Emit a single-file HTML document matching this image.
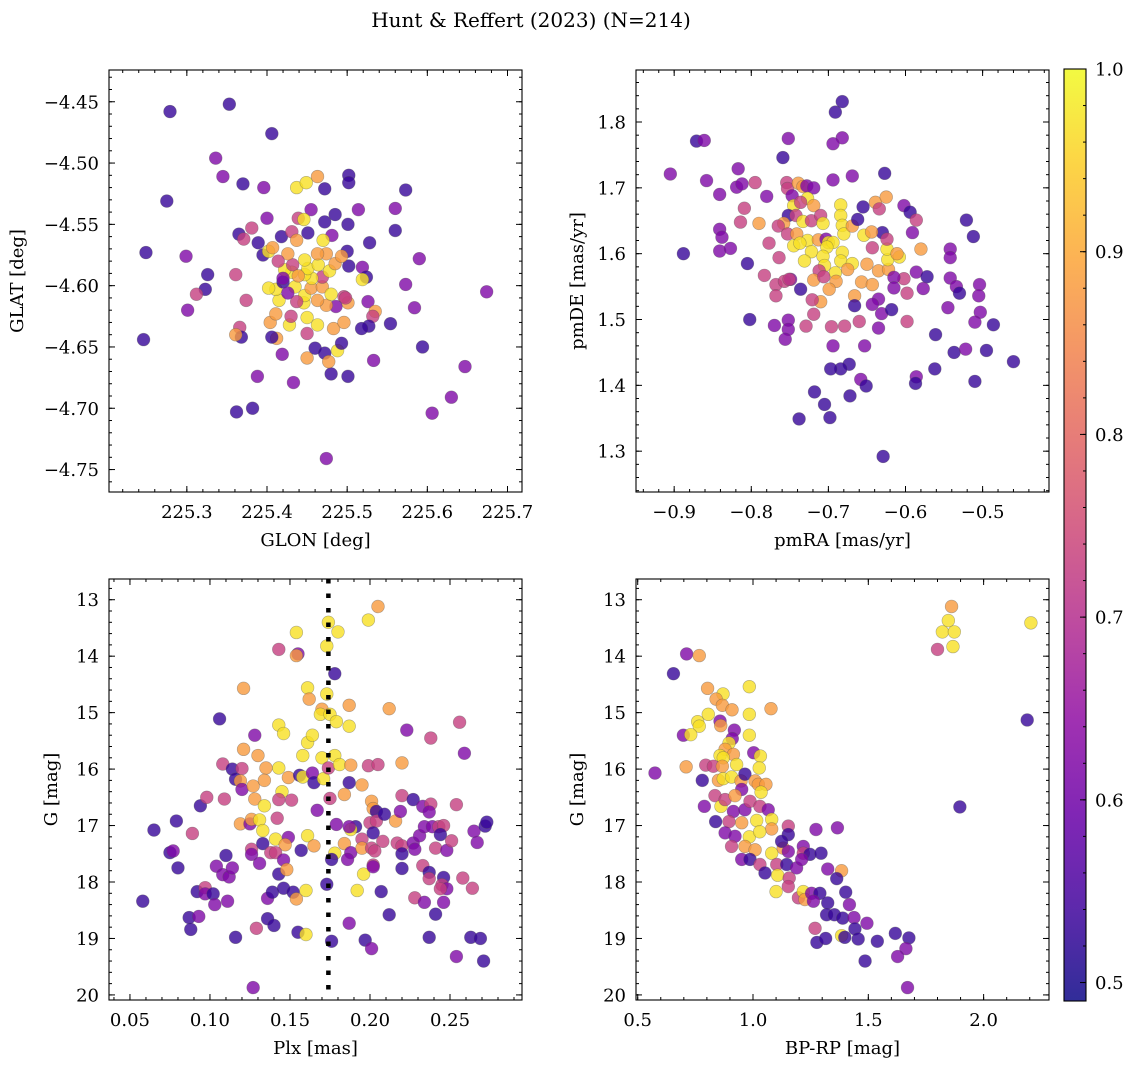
<!DOCTYPE html>
<html><head><meta charset="utf-8">
<style>
html,body{margin:0;padding:0;background:#fff;}
svg{display:block;font-family:"DejaVu Serif","Liberation Serif",serif;}
</style></head>
<body>
<svg id="fig" width="1136" height="1068" viewBox="0 0 1136 1068" xmlns="http://www.w3.org/2000/svg">
<text x="531" y="27" font-size="20" text-anchor="middle">Hunt &amp; Reffert (2023) (N=214)</text>
</svg>
<script>
// ---------- DATA (colour = membership probability) ----------
const posGlon = [225.279,225.353,225.406,225.336,225.345,225.370,225.396,225.275,225.249,225.299,225.326,225.323,225.312,225.301,225.246,225.361,225.374,225.366,225.368,225.361,225.362,225.382,225.388,225.419,225.433,225.437,225.449,225.463,225.472,225.502,225.502,225.455,225.439,225.446,225.400,225.381,225.365,225.371,225.389,225.395,225.402,225.407,225.418,225.431,225.437,225.451,225.472,225.485,225.481,225.470,225.501,225.514,225.500,225.502,225.519,225.524,225.519,225.528,225.560,225.573,225.560,225.590,225.573,225.584,225.526,225.501,225.496,225.535,225.532,225.527,225.518,225.554,225.594,225.674,225.647,225.630,225.606,225.533,225.501,225.480,225.460,225.472,225.477,225.488,225.493,225.450,225.474,225.412,225.406,225.404,225.411,225.428,225.430,225.450,225.450,225.463,225.483,225.496,225.486,225.474,225.463,225.446,225.447,225.437,225.415,225.411,225.402,225.420,225.435,225.455,225.469,225.480,225.498,225.469,225.456,225.447,225.431,225.422,225.451,225.464,225.478,225.485,225.493,225.474,225.463,225.447,225.432,225.426,225.414,225.420,225.426,225.439];
const posGlat = [-4.458,-4.452,-4.476,-4.496,-4.511,-4.517,-4.520,-4.531,-4.573,-4.576,-4.591,-4.603,-4.607,-4.620,-4.644,-4.591,-4.612,-4.634,-4.642,-4.640,-4.703,-4.700,-4.674,-4.656,-4.679,-4.520,-4.516,-4.511,-4.521,-4.510,-4.516,-4.538,-4.545,-4.546,-4.545,-4.553,-4.558,-4.562,-4.565,-4.575,-4.572,-4.569,-4.560,-4.556,-4.563,-4.557,-4.548,-4.542,-4.559,-4.563,-4.550,-4.538,-4.572,-4.584,-4.585,-4.593,-4.595,-4.565,-4.537,-4.522,-4.555,-4.578,-4.599,-4.618,-4.613,-4.614,-4.609,-4.621,-4.625,-4.633,-4.635,-4.631,-4.650,-4.605,-4.666,-4.691,-4.704,-4.661,-4.674,-4.672,-4.651,-4.655,-4.662,-4.653,-4.647,-4.659,-4.741,-4.643,-4.642,-4.630,-4.623,-4.632,-4.625,-4.639,-4.626,-4.632,-4.635,-4.630,-4.617,-4.616,-4.612,-4.614,-4.608,-4.613,-4.612,-4.603,-4.602,-4.597,-4.601,-4.602,-4.601,-4.607,-4.610,-4.593,-4.594,-4.591,-4.589,-4.587,-4.586,-4.583,-4.588,-4.582,-4.576,-4.574,-4.574,-4.579,-4.583,-4.574,-4.580,-4.594,-4.606,-4.592];
const posProb = [.53,.53,.53,.62,.62,.53,.62,.53,.53,.62,.53,.53,.73,.62,.53,.73,.73,.73,.53,.88,.53,.53,.62,.62,.62,.97,.97,.88,.53,.53,.53,.62,.73,.97,.62,.73,.53,.73,.53,.53,.97,.88,.53,.73,.88,.53,.53,.53,.62,.97,.53,.62,.53,.53,.62,.53,.97,.53,.62,.53,.53,.62,.62,.62,.62,.88,.73,.88,.73,.53,.53,.53,.53,.62,.62,.62,.62,.62,.53,.53,.53,.53,.88,.97,.53,.88,.62,.88,.53,.88,.88,.97,.73,.73,.97,.97,.88,.88,.62,.88,.88,.97,.97,.73,.97,.97,.97,.53,.97,.88,.88,.97,.73,.73,.97,.97,.97,.97,.97,.97,.97,.88,.88,.88,.88,.97,.73,.88,.73,.62,.62,.88];

const pmRA = [-0.682,-0.691,-0.871,-0.861,-0.752,-0.682,-0.694,-0.759,-0.905,-0.858,-0.817,-0.819,-0.812,-0.795,-0.841,-0.780,-0.694,-0.669,-0.627,-0.888,-0.841,-0.838,-0.841,-0.827,-0.805,-0.802,-0.809,-0.814,-0.790,-0.777,-0.783,-0.764,-0.768,-0.768,-0.757,-0.749,-0.770,-0.752,-0.752,-0.756,-0.754,-0.753,-0.747,-0.739,-0.733,-0.728,-0.719,-0.727,-0.745,-0.719,-0.736,-0.752,-0.758,-0.765,-0.753,-0.742,-0.733,-0.722,-0.710,-0.707,-0.741,-0.727,-0.745,-0.737,-0.722,-0.713,-0.703,-0.700,-0.694,-0.702,-0.707,-0.731,-0.705,-0.691,-0.712,-0.719,-0.706,-0.684,-0.684,-0.682,-0.680,-0.669,-0.654,-0.682,-0.684,-0.669,-0.675,-0.690,-0.699,-0.710,-0.721,-0.736,-0.751,-0.719,-0.729,-0.696,-0.679,-0.694,-0.653,-0.660,-0.657,-0.666,-0.643,-0.650,-0.635,-0.622,-0.623,-0.608,-0.624,-0.611,-0.580,-0.630,-0.624,-0.643,-0.644,-0.639,-0.625,-0.634,-0.655,-0.662,-0.602,-0.594,-0.586,-0.591,-0.586,-0.572,-0.577,-0.602,-0.615,-0.598,-0.615,-0.635,-0.643,-0.631,-0.666,-0.618,-0.635,-0.598,-0.561,-0.545,-0.542,-0.542,-0.542,-0.534,-0.530,-0.521,-0.512,-0.504,-0.505,-0.503,-0.510,-0.486,-0.537,-0.522,-0.495,-0.460,-0.562,-0.510,-0.586,-0.587,-0.658,-0.651,-0.673,-0.684,-0.697,-0.718,-0.672,-0.705,-0.698,-0.738,-0.629];
const pmDE = [1.831,1.815,1.771,1.772,1.775,1.776,1.767,1.746,1.721,1.711,1.729,1.701,1.706,1.708,1.690,1.687,1.712,1.718,1.722,1.600,1.637,1.625,1.604,1.608,1.585,1.500,1.669,1.648,1.646,1.616,1.567,1.594,1.553,1.536,1.558,1.561,1.491,1.499,1.485,1.470,1.708,1.699,1.688,1.707,1.702,1.703,1.700,1.684,1.673,1.673,1.678,1.658,1.646,1.642,1.630,1.658,1.649,1.650,1.658,1.646,1.630,1.620,1.612,1.616,1.603,1.621,1.622,1.617,1.617,1.610,1.596,1.589,1.582,1.571,1.574,1.560,1.565,1.674,1.658,1.643,1.630,1.642,1.628,1.602,1.589,1.585,1.576,1.558,1.546,1.527,1.530,1.546,1.561,1.508,1.490,1.489,1.490,1.460,1.460,1.497,1.557,1.536,1.553,1.584,1.574,1.576,1.591,1.595,1.607,1.600,1.607,1.632,1.622,1.609,1.633,1.678,1.686,1.668,1.671,1.652,1.673,1.663,1.651,1.632,1.572,1.565,1.547,1.562,1.564,1.540,1.548,1.531,1.523,1.509,1.521,1.515,1.487,1.497,1.477,1.518,1.607,1.594,1.563,1.550,1.540,1.651,1.626,1.553,1.536,1.511,1.496,1.492,1.450,1.455,1.453,1.436,1.425,1.406,1.413,1.403,1.409,1.399,1.432,1.425,1.425,1.390,1.384,1.371,1.351,1.349,1.292];
const pmProb = [.53,.53,.53,.62,.62,.62,.62,.53,.62,.62,.62,.62,.62,.73,.62,.62,.62,.62,.53,.53,.62,.62,.62,.62,.53,.53,.73,.73,.88,.73,.73,.73,.73,.73,.73,.62,.62,.62,.62,.62,.73,.73,.62,.88,.88,.62,.62,.97,.97,.88,.73,.53,.88,.73,.73,.73,.97,.73,.73,.97,.88,.97,.97,.97,.97,.88,.62,.97,.97,.97,.97,.97,.97,.97,.73,.88,.73,.97,.97,.97,.97,.88,.97,.97,.97,.97,.88,.88,.88,.88,.73,.53,.73,.73,.73,.73,.73,.62,.62,.73,.88,.88,.88,.88,.88,.88,.97,.97,.97,.88,.88,.53,.73,.73,.88,.88,.88,.73,.53,.53,.62,.53,.73,.62,.62,.53,.62,.73,.62,.73,.62,.62,.62,.62,.53,.53,.62,.73,.53,.62,.62,.62,.62,.62,.53,.53,.53,.62,.62,.62,.62,.53,.53,.62,.53,.53,.53,.53,.62,.53,.62,.53,.53,.53,.53,.53,.53,.53,.53,.53,.53,.53];

const plx = [.058,.065,.079,.089,.075,.077,.080,.087,.088,.093,.092,.097,.097,.102,.103,.094,.098,.106,.109,.108,.114,.120,.116,.119,.120,.110,.104,.108,.112,.114,.111,.116,.121,.121,.128,.127,.128,.130,.135,.134,.119,.125,.126,.131,.133,.134,.126,.133,.126,.131,.129,.127,.136,.139,.136,.140,.143,.143,.146,.143,.149,.145,.143,.151,.142,.141,.149,.147,.138,.141,.146,.143,.148,.146,.152,.154,.155,.154,.155,.154,.161,.162,.158,.161,.164,.156,.158,.164,.165,.167,.157,.161,.165,.160,.160,.170,.169,.173,.170,.171,.174,.175,.174,.173,.180,.178,.175,.179,.178,.181,.179,.178,.176,.173,.176,.187,.187,.188,.187,.195,.184,.191,.188,.187,.184,.188,.186,.195,.195,.196,.192,.187,.199,.205,.199,.205,.201,.202,.204,.200,.204,.202,.208,.201,.203,.202,.202,.207,.212,.197,.201,.212,.220,.209,.216,.219,.220,.227,.223,.217,.220,.220,.220,.227,.228,.233,.228,.234,.237,.238,.233,.238,.237,.231,.234,.239,.243,.246,.244,.241,.248,.251,.237,.237,.246,.245,.248,.244,.246,.241,.254,.256,.259,.258,.264,.265,.267,.272,.273,.263,.269,.271,.254];
const gMag = [18.34,17.08,16.92,17.14,17.48,17.45,17.75,18.63,18.84,18.61,18.17,18.10,18.21,18.21,18.40,16.65,16.50,15.11,16.53,15.91,16.00,15.99,16.18,16.21,16.36,17.53,17.72,17.87,17.91,17.75,18.34,18.98,14.57,15.65,15.40,16.30,16.53,15.76,15.98,16.20,16.97,16.97,16.89,16.90,17.09,16.65,17.42,17.32,17.51,17.67,18.82,19.87,18.29,18.18,18.65,18.77,13.88,15.22,15.37,15.98,16.15,16.40,16.54,16.55,16.87,17.24,17.21,17.34,17.48,17.48,17.61,17.86,17.78,18.11,18.18,18.30,18.89,13.58,13.96,13.99,14.56,14.76,15.76,15.53,15.40,16.11,16.14,16.07,16.24,16.73,17.44,17.18,17.36,18.15,18.93,14.94,15.03,14.67,15.80,16.17,15.98,16.52,13.40,13.82,13.57,14.31,15.03,15.16,15.76,15.92,16.98,17.49,17.60,18.04,19.05,14.87,15.24,15.93,16.24,16.28,16.45,17.02,17.07,17.02,17.32,17.48,17.60,17.24,17.40,17.86,18.15,18.73,13.36,13.12,15.94,15.92,16.57,16.70,16.75,16.95,16.92,17.13,17.28,17.40,17.45,17.70,17.73,18.17,18.58,19.03,19.18,14.93,15.89,16.80,16.92,16.75,16.47,16.54,15.31,17.31,17.36,17.50,17.76,17.31,17.42,17.71,18.28,18.36,18.98,15.45,16.66,16.62,16.76,17.18,17.02,17.02,17.02,17.00,17.16,17.40,17.44,17.27,17.83,17.94,17.92,18.05,18.12,18.12,18.36,18.57,16.63,15.17,15.72,17.93,18.11,17.10,17.30,17.01,16.94,18.98,19.00,19.40,19.32];
const plxProb = [.53,.53,.53,.73,.53,.62,.53,.53,.53,.62,.53,.73,.62,.53,.62,.53,.73,.53,.73,.73,.53,.73,.53,.88,.62,.53,.62,.62,.62,.62,.62,.53,.88,.88,.62,.88,.88,.88,.88,.88,.88,.62,.88,.97,.97,.97,.73,.53,.62,.62,.73,.62,.62,.53,.53,.53,.73,.97,.97,.97,.88,.97,.73,.73,.73,.97,.62,.88,.73,.73,.62,.53,.88,.53,.53,.88,.53,.97,.62,.88,.97,.88,.97,.97,.97,.53,.97,.62,.53,.62,.53,.97,.88,.97,.97,.88,.97,.97,.97,.97,.73,.73,.97,.97,.97,.53,.97,.97,.97,.97,.62,.97,.53,.53,.53,.88,.97,.88,.53,.88,.88,.53,.97,.62,.88,.62,.62,.73,.88,.97,.97,.62,.97,.88,.73,.73,.88,.88,.53,.73,.73,.53,.73,.73,.73,.73,.62,.53,.53,.53,.62,.88,.88,.53,.88,.62,.73,.53,.62,.73,.73,.53,.53,.62,.62,.73,.73,.62,.53,.73,.62,.73,.62,.62,.62,.62,.73,.73,.53,.73,.62,.73,.53,.73,.53,.73,.62,.73,.62,.53,.73,.73,.62,.73,.73,.62,.62,.53,.53,.53,.53,.53,.62];

const bpRp = [.575,.712,.767,.655,.803,.870,.840,.867,.909,.984,.984,1.078,.806,.760,.767,.857,.860,.919,.698,.730,.984,.910,.896,.879,.915,.857,.871,1.003,1.032,.710,.795,.828,.867,.929,1.027,.780,.850,.871,.907,.948,.965,1.009,1.023,1.056,1.035,.951,.789,.835,.861,.879,.922,.915,.965,.987,1.030,1.066,.838,.896,.951,1.016,1.081,1.081,.879,.922,.984,1.029,.907,.965,1.009,1.081,1.131,1.153,1.153,1.124,1.153,1.218,1.218,1.247,1.295,1.273,1.366,.951,.987,1.030,1.052,1.103,1.107,1.146,1.189,1.211,1.324,1.384,1.363,1.157,1.100,1.153,1.197,1.218,1.225,1.254,1.290,1.262,1.324,1.402,1.319,1.353,1.418,1.389,1.438,1.442,1.494,1.384,1.398,1.269,1.277,1.315,1.456,1.539,1.617,1.676,1.663,1.627,1.486,1.670,1.897,2.189,2.205,1.861,1.847,1.821,1.873,1.800,1.867];
const cmdG = [16.07,13.96,13.99,14.31,14.57,14.67,14.76,14.87,14.95,14.54,15.03,14.93,15.03,15.16,15.24,15.15,15.23,15.31,15.40,15.39,15.40,15.46,15.54,15.65,15.74,15.76,15.80,15.71,15.77,15.96,15.93,15.95,15.95,15.92,15.98,16.20,16.20,16.17,16.14,16.21,16.09,16.21,16.27,16.27,16.41,16.36,16.66,16.47,16.66,16.54,16.47,16.75,16.72,16.57,16.66,16.72,16.93,16.93,16.95,16.91,16.89,17.06,17.13,17.19,17.20,17.11,17.37,17.37,17.43,17.49,17.40,17.01,17.16,17.28,17.46,17.37,17.49,17.51,17.49,17.07,17.04,17.60,17.60,17.69,17.84,17.69,17.88,17.69,17.75,17.60,17.77,17.80,17.94,17.93,18.17,18.08,18.28,18.17,18.31,18.20,18.20,18.34,18.37,18.18,18.58,18.58,18.40,18.64,18.63,18.83,18.73,18.95,18.98,18.82,19.07,19.00,19.01,19.05,18.91,18.99,19.18,19.32,19.40,19.87,16.67,15.13,13.41,13.12,13.37,13.57,13.57,13.88,13.83];
const cmdProb = [.62,.62,.88,.53,.88,.97,.88,.88,.88,.97,.97,.88,.97,.97,.97,.62,.88,.62,.62,.97,.97,.62,.97,.88,.88,.97,.97,.62,.97,.88,.73,.73,.88,.97,.97,.53,.88,.97,.97,.88,.53,.88,.88,.88,.97,.62,.62,.73,.97,.73,.88,.62,.62,.73,.73,.62,.53,.73,.88,.97,.97,.88,.62,.62,.97,.97,.73,.88,.88,.97,.88,.73,.53,.53,.62,.62,.73,.53,.53,.62,.62,.62,.53,.73,.53,.73,.97,.53,.62,.62,.62,.88,.53,.73,.97,.73,.73,.97,.88,.62,.53,.62,.53,.53,.53,.53,.62,.53,.62,.53,.62,.97,.53,.73,.53,.53,.53,.53,.53,.53,.62,.62,.53,.62,.53,.53,.97,.88,.97,.97,.97,.73,.97];

const cbTicks = [0.5,0.6,0.7,0.8,0.9,1.0];

// ---------- helpers ----------
const NS = "http://www.w3.org/2000/svg";
const svg = document.getElementById('fig');
const VMIN = 0.4899, VMAX = 1.0;
const plasmaStops = ["#0d0887","#41049d","#6a00a8","#8f0da4","#b12a90","#cc4778","#e16462","#f2844b","#fca636","#fcce25","#f0f921"];
function hex(h){return [parseInt(h.slice(1,3),16),parseInt(h.slice(3,5),16),parseInt(h.slice(5,7),16)];}
function plasma(t){t=Math.max(0,Math.min(1,t));const f=t*10,i=Math.min(9,Math.floor(f)),u=f-i;const a=hex(plasmaStops[i]),b=hex(plasmaStops[i+1]);return 'rgb('+a.map((v,k)=>Math.round(v+(b[k]-v)*u)).join(',')+')';}
function cmap(v){return plasma((v-VMIN)/(VMAX-VMIN));}
function mk(tag,attrs,parent){const e=document.createElementNS(NS,tag);for(const k in attrs)e.setAttribute(k,attrs[k]);(parent||svg).appendChild(e);return e;}
function fmt(v,d){const s=Math.abs(v).toFixed(d);return (v<-1e-9?'\u2212':'')+s;}
const FS = 18;

function panel(cfg){
  const {L,T,W,H,x0,x1,y0,y1,invertY} = cfg;
  const sx = v => L + (v-x0)/(x1-x0)*W;
  const sy = invertY ? (v => T + (v-y0)/(y1-y0)*H) : (v => T + H - (v-y0)/(y1-y0)*H);
  const g = mk('g',{});
  
  
  const clipId = 'clip-'+cfg.name;
  const cp = mk('clipPath',{id:clipId},g);
  mk('rect',{x:L,y:T,width:W,height:H},cp);
  const tg = mk('g',{stroke:'#000','stroke-width':1},g);
  const eps=1e-9;
  function ticksX(step,len){const s=Math.ceil((x0)/step-eps);for(let k=s;k*step<=x1+eps;k++){const x=sx(k*step);mk('line',{x1:x,x2:x,y1:T+H,y2:T+H-len},tg);mk('line',{x1:x,x2:x,y1:T,y2:T+len},tg);}}
  function ticksY(step,len){const lo=Math.min(y0,y1),hi=Math.max(y0,y1);const s=Math.ceil(lo/step-eps);for(let k=s;k*step<=hi+eps;k++){const y=sy(k*step);mk('line',{x1:L,x2:L+len,y1:y,y2:y},tg);mk('line',{x1:L+W,x2:L+W-len,y1:y,y2:y},tg);}}
  ticksX(cfg.xMinor,3); ticksX(cfg.xMajor,6); ticksY(cfg.yMinor,3); ticksY(cfg.yMajor,6);
  cfg.xLabels.forEach(v=>{
    const t=mk('text',{x:sx(v),y:T+H+26,'font-size':FS,'text-anchor':'middle'},g);
    
    
    t.textContent=fmt(v,cfg.xDec);
  });
  cfg.yLabels.forEach(v=>{
    const t=mk('text',{x:L-10,y:sy(v)+6.5,'font-size':FS,'text-anchor':'end'},g);
    
    
    t.textContent=fmt(v,cfg.yDec);
  });
  const pg = mk('g',{'clip-path':'url(#'+clipId+')'},g);
  for(let i=0;i<cfg.xs.length;i++){
    const c=mk('circle',{cx:sx(cfg.xs[i]),cy:sy(cfg.ys[i]),r:6.4,fill:cmap(cfg.cs[i]),'fill-opacity':0.8,stroke:'#555','stroke-opacity':0.45,'stroke-width':0.6},pg);
    
    
  }
  if(cfg.vline!==undefined){
    const vl2=mk('line',{x1:sx(cfg.vline),x2:sx(cfg.vline),y1:T,y2:T+H,stroke:'#000','stroke-width':4.5,'stroke-dasharray':'4.5 10'},pg);
    
    
  }
  const fr=mk('rect',{x:L,y:T,width:W,height:H,fill:'none',stroke:'#000','stroke-width':1.1},g);
  
  
  const xl=mk('text',{x:L+W/2,y:T+H+54,'font-size':FS,'text-anchor':'middle'},g);
  
  
  xl.textContent=cfg.xTitle;
  const yl=mk('text',{x:cfg.yTitleX,y:T+H/2,'font-size':FS,'text-anchor':'middle',transform:'rotate(-90 '+cfg.yTitleX+' '+(T+H/2)+')'},g);
  
  
  yl.textContent=cfg.yTitle;
}

const TT=70, TH=422, BT=579, BH=421, LL=109, RL=636, PW=413;
panel({name:'panel-sky-position',L:LL,T:TT,W:PW,H:TH,x0:225.2029,x1:225.7181,y0:-4.7683,y1:-4.4241,xs:posGlon,ys:posGlat,cs:posProb,
  xMajor:0.1,xMinor:0.02,yMajor:0.05,yMinor:0.01,xLabels:[225.3,225.4,225.5,225.6,225.7],xDec:1,yLabels:[-4.45,-4.5,-4.55,-4.6,-4.65,-4.7,-4.75],yDec:2,
  xTitle:'GLON [deg]',yTitle:'GLAT [deg]',yTitleX:23});
panel({name:'panel-proper-motion',L:RL,T:TT,W:PW,H:TH,x0:-0.9495,x1:-0.4139,y0:1.238,y1:1.879,xs:pmRA,ys:pmDE,cs:pmProb,
  xMajor:0.1,xMinor:0.02,yMajor:0.1,yMinor:0.02,xLabels:[-0.9,-0.8,-0.7,-0.6,-0.5],xDec:1,yLabels:[1.3,1.4,1.5,1.6,1.7,1.8],yDec:1,
  xTitle:'pmRA [mas/yr]',yTitle:'pmDE [mas/yr]',yTitleX:583});
panel({name:'panel-parallax-magnitude',L:LL,T:BT,W:PW,H:BH,x0:0.0369,x1:0.2950,y0:12.633,y1:20.09,invertY:true,xs:plx,ys:gMag,cs:plxProb,vline:0.174,
  xMajor:0.05,xMinor:0.01,yMajor:1,yMinor:0.2,xLabels:[0.05,0.10,0.15,0.20,0.25],xDec:2,yLabels:[13,14,15,16,17,18,19,20],yDec:0,
  xTitle:'Plx [mas]',yTitle:'G [mag]',yTitleX:57});
panel({name:'panel-colour-magnitude',L:RL,T:BT,W:PW,H:BH,x0:0.4926,x1:2.2835,y0:12.633,y1:20.09,invertY:true,xs:bpRp,ys:cmdG,cs:cmdProb,
  xMajor:0.5,xMinor:0.1,yMajor:1,yMinor:0.2,xLabels:[0.5,1.0,1.5,2.0],xDec:1,yLabels:[13,14,15,16,17,18,19,20],yDec:0,
  xTitle:'BP-RP [mag]',yTitle:'G [mag]',yTitleX:583});

// ---------- colorbar ----------
(function(){
  const L=1064,T=69,W=22,H=932;
  const g=mk('g',{});
  
  
  const defs=mk('defs',{},g);
  const lg=mk('linearGradient',{id:'cbgrad',x1:0,y1:1,x2:0,y2:0},defs);
  for(let i=0;i<=20;i++){const t=i/20;mk('stop',{offset:t,'stop-color':plasma(t)},lg);}
  mk('rect',{x:L,y:T,width:W,height:H,fill:'#fff'},g);
  mk('rect',{x:L,y:T,width:W,height:H,fill:'url(#cbgrad)','fill-opacity':0.85},g);
  mk('rect',{x:L,y:T,width:W,height:H,fill:'none',stroke:'#000','stroke-width':1.1},g);
  const sy=v=>T+H-(v-VMIN)/(VMAX-VMIN)*H;
  for(let v=0.5;v<=1.0001;v+=0.02){const y=sy(v);mk('line',{x1:L+W-3,x2:L+W,y1:y,y2:y,stroke:'#000','stroke-width':1},g);}
  cbTicks.forEach(v=>{
    const y=sy(v);
    mk('line',{x1:L+W-6,x2:L+W,y1:y,y2:y,stroke:'#000','stroke-width':1},g);
    const t=mk('text',{x:L+W+9,y:y+6.5,'font-size':FS},g);
    
    
    t.textContent=v.toFixed(1);
  });
})();
</script>
</body></html>
